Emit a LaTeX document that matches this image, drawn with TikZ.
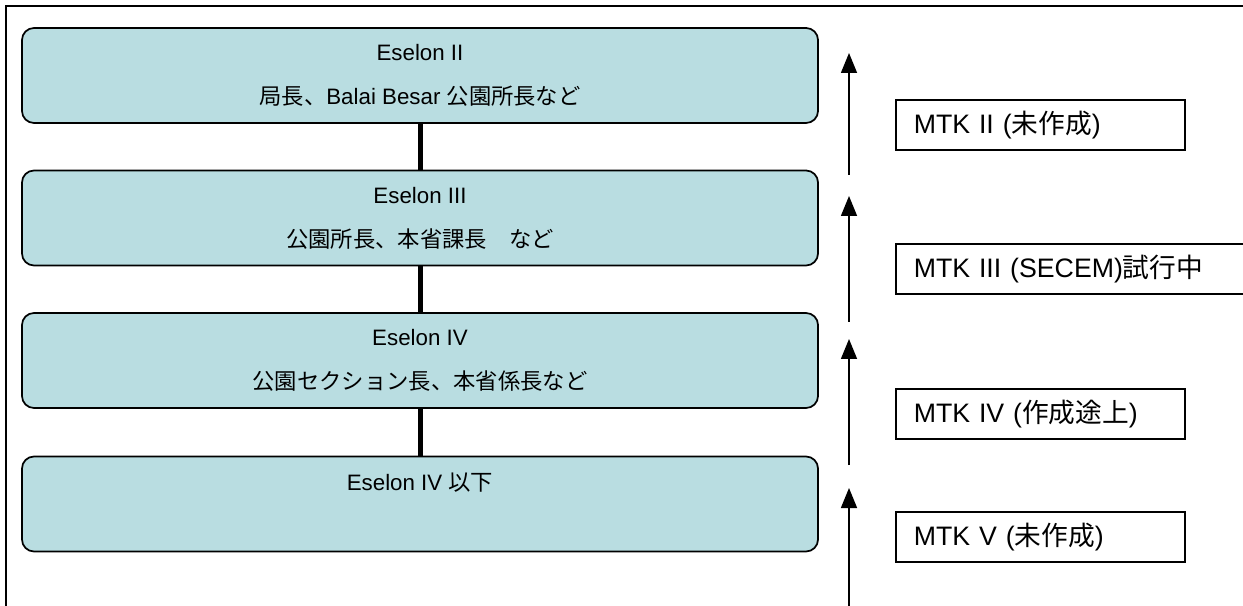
\documentclass[tikz,border=0pt]{standalone}
\usepackage{fontspec}
\setmainfont{Liberation Sans}
\newfontfamily\jp{Noto Sans CJK JP}
\usepackage{tikz}
\usetikzlibrary{arrows.meta}
\definecolor{eselonfill}{RGB}{185,221,225}
\tikzstyle{eselon} = [draw, line width=0.35mm, rounded corners=2.4mm, fill=eselonfill, minimum width=159.2mm, minimum height=19mm, align=center, font=\fontsize{12.7pt}{25pt}\selectfont]
\tikzstyle{mtk} = [draw, line width=0.3mm, anchor=west, minimum height=10mm, text width=50.6mm, inner xsep=3.6mm, align=left, font=\fontsize{15.2pt}{18pt}\selectfont]
\tikzstyle{link} = [line width=1mm]
\tikzstyle{arrow} = [line width=0.3mm, -{Triangle[width=3.2mm,length=4mm]}]

\begin{document}
\begin{tikzpicture}[x=0.2mm, y=-0.2mm]
	\useasboundingbox (0,0) rectangle (1243,606);
	% frame
	\draw [line width=0.45mm] (1243,6) -- (6,6) -- (6,606);
	% eselon levels
	\node [eselon] (e2) at (420,75.5) {\rule{0pt}{0.6mm}Eselon II\\{\jp 局長、}Balai Besar {\jp 公園所長など}};
	\node [eselon] (e3) at (420,218) {\rule{0pt}{0.6mm}Eselon III\\{\jp 公園所長、本省課長　など}};
	\node [eselon] (e4) at (420,360.5) {\rule{0pt}{0.6mm}Eselon IV\\{\jp 公園セクション長、本省係長など}};
	\node [eselon] (e5) at (420,504) {Eselon IV {\jp 以下}\\\mbox{}};
	\draw [link] (e2.south) -- (e3.north);
	\draw [link] (e3.south) -- (e4.north);
	\draw [link] (e4.south) -- (e5.north);
	% arrows
	\coordinate (a2s) at (849,175); \coordinate (a2e) at (849,53);
	\coordinate (a3s) at (849,322); \coordinate (a3e) at (849,196);
	\coordinate (a4s) at (849,465); \coordinate (a4e) at (849,339);
	\coordinate (a5s) at (849,606); \coordinate (a5e) at (849,488);
	\draw [arrow] (a2s) -- (a2e);
	\draw [arrow] (a3s) -- (a3e);
	\draw [arrow] (a4s) -- (a4e);
	\draw [arrow] (a5s) -- (a5e);
	% MTK labels
	\node [mtk] (m2) at (895,125) {MTK II ({\jp 未作成})};
	\node [mtk, text width=66mm] (m3) at (895,269) {MTK III (SECEM){\jp 試行中}};
	\node [mtk] (m4) at (895,414) {MTK IV ({\jp 作成途上})};
	\node [mtk] (m5) at (895,537) {MTK V ({\jp 未作成})};
\end{tikzpicture}
\end{document}
